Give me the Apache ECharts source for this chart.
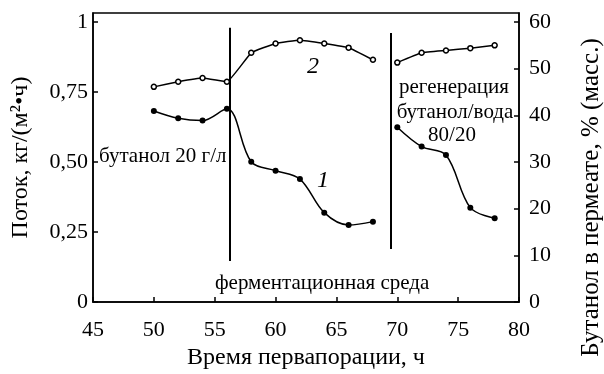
<!DOCTYPE html>
<html><head><meta charset="utf-8">
<script src="https://cdn.jsdelivr.net/npm/echarts@6/dist/echarts.min.js"></script>
<style>html,body{margin:0;padding:0;background:#fff}#chart{width:604px;height:374px}</style>
</head><body><div id="chart"></div>
<script>
// Sampling times, h
const hoursFermentation = [50, 52, 54, 56, 58, 60, 62, 64, 66, 68];
const hoursRegeneration = [70, 72, 74, 76, 78];
// Curve 1: permeate flux, kg/(m²·h)
const fluxFermentation = [0.682, 0.656, 0.648, 0.690, 0.501, 0.469, 0.439, 0.319, 0.275, 0.287];
const fluxRegeneration = [0.624, 0.555, 0.525, 0.337, 0.299];
// Curve 2: butanol in permeate, wt %
const butanolFermentation = [46.1, 47.2, 48.0, 47.2, 53.4, 55.4, 56.1, 55.4, 54.5, 51.9];
const butanolRegeneration = [51.3, 53.4, 53.9, 54.4, 55.0];
// Feed switch moments (h) and the flux range the divider lines span
const switchHours = [56.2, 69.5];
const switchFrom = [0.146, 0.189];
const switchTo = [0.979, 0.961];
// Axis ticks
const xTicks = [45, 50, 55, 60, 65, 70, 75, 80];
const fluxTicks = [0, 0.25, 0.5, 0.75, 1];
const fluxTickLabels = ['0', '0,25', '0,50', '0,75', '1'];
const butanolTicks = [0, 10, 20, 30, 40, 50, 60];

const FONT = 'Liberation Serif';
const zip = (xs, ys) => xs.map((x, i) => [x, ys[i]]);

const chart = echarts.init(document.getElementById('chart'));

const baseAxis = {
  axisLine: { show: true, lineStyle: { color: '#000', width: 1.5 } },
  axisTick: { show: true, inside: true, length: 5, lineStyle: { color: '#000', width: 1.5 } },
  splitLine: { show: false },
  axisLabel: { color: '#000', fontFamily: FONT, fontSize: 22 },
  nameTextStyle: { color: '#000', fontFamily: FONT, fontSize: 24 },
  nameLocation: 'middle'
};

const filledLine = { color: '#000', width: 1.5 };
const filledItem = { color: '#000' };
const openItem = { color: '#fff', borderColor: '#000', borderWidth: 1.5 };
const note = (text, x, y, extra) => ({
  type: 'text', x: x, y: y,
  style: Object.assign({ text: text, fontFamily: FONT, fontSize: 21, fill: '#000', textVerticalAlign: 'middle' }, extra || {})
});

chart.setOption({
  animation: false,
  backgroundColor: '#fff',
  grid: {
    left: 93, right: 85, top: 13, bottom: 72, outerBoundsMode: 'none', containLabel: false,
    show: true, borderColor: '#000', borderWidth: 1.5, backgroundColor: 'transparent'
  },
  xAxis: Object.assign({}, baseAxis, {
    type: 'value', min: xTicks[0], max: xTicks[xTicks.length - 1], interval: 5,
    axisLabel: Object.assign({}, baseAxis.axisLabel, { margin: 17 }),
    name: 'Время первапорации, ч', nameGap: 43
  }),
  yAxis: [
    Object.assign({}, baseAxis, {
      type: 'value', position: 'left', min: 0, max: 1.032,
      axisLabel: Object.assign({}, baseAxis.axisLabel, {
        customValues: fluxTicks, margin: 5,
        formatter: v => fluxTickLabels[fluxTicks.findIndex(t => Math.abs(t - v) < 1e-6)] || ''
      }),
      axisTick: Object.assign({}, baseAxis.axisTick, { customValues: fluxTicks }),
      name: 'Поток, кг/(м²•ч)', nameGap: 60, nameRotate: 90
    }),
    Object.assign({}, baseAxis, {
      type: 'value', position: 'right', min: 0, max: 61.93,
      axisLabel: Object.assign({}, baseAxis.axisLabel, { customValues: butanolTicks, margin: 10 }),
      axisTick: Object.assign({}, baseAxis.axisTick, { customValues: butanolTicks }),
      name: 'Бутанол в пермеате, % (масс.)', nameGap: 60, nameRotate: 90,
      nameTextStyle: Object.assign({}, baseAxis.nameTextStyle, { fontSize: 25, padding: [0, 80, 0, 0] })
    })
  ],
  series: [
    {
      type: 'line', yAxisIndex: 0, data: zip(hoursFermentation, fluxFermentation),
      smooth: 0.35, symbol: 'circle', symbolSize: 6, lineStyle: filledLine, itemStyle: filledItem,
      markLine: {
        silent: true, symbol: 'none', label: { show: false },
        lineStyle: { color: '#000', width: 2, type: 'solid' },
        data: switchHours.map((h, i) => [{ coord: [h, switchFrom[i]] }, { coord: [h, switchTo[i]] }])
      }
    },
    {
      type: 'line', yAxisIndex: 0, data: zip(hoursRegeneration, fluxRegeneration),
      smooth: 0.35, symbol: 'circle', symbolSize: 6, lineStyle: filledLine, itemStyle: filledItem
    },
    {
      type: 'line', yAxisIndex: 1, data: zip(hoursFermentation, butanolFermentation),
      smooth: 0.1, symbol: 'circle', symbolSize: 5, lineStyle: filledLine, itemStyle: openItem
    },
    {
      type: 'line', yAxisIndex: 1, data: zip(hoursRegeneration, butanolRegeneration),
      smooth: 0.1, symbol: 'circle', symbolSize: 5, lineStyle: filledLine, itemStyle: openItem
    }
  ],
  graphic: [
    note('бутанол 20 г/л', 99, 156),
    note('ферментационная среда', 215, 283),
    note('регенерация', 454, 87, { textAlign: 'center' }),
    note('бутанол/вода', 455, 112, { textAlign: 'center' }),
    note('80/20', 452, 135, { textAlign: 'center' }),
    note('2', 313, 67, { textAlign: 'center', fontStyle: 'italic', fontSize: 24 }),
    note('1', 323, 181, { textAlign: 'center', fontStyle: 'italic', fontSize: 24 })
  ]
});
</script>
</body></html>
